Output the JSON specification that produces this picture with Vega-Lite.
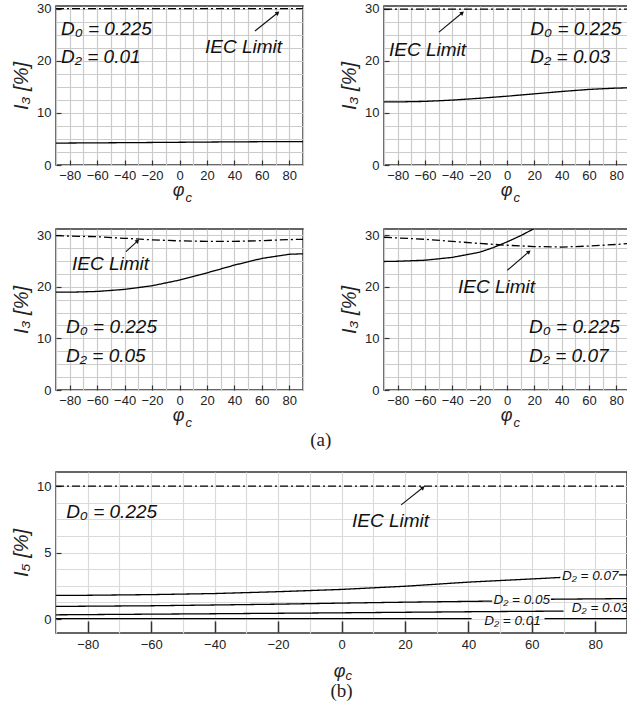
{
  "$schema": "https://vega.github.io/schema/vega-lite/v6.json",
  "padding": {"left": 10, "top": 1, "right": 0, "bottom": 0},
  "background": "white",
  "config": {
    "view": {"stroke": "#333", "strokeWidth": 1.5},
    "font": "Liberation Sans",
    "axis": {"labelFont": "Liberation Sans", "labelFontSize": 13, "labelColor": "#222", "titleFont": "Liberation Sans", "titleFontSize": 18, "titleFontStyle": "italic", "titleFontWeight": "normal", "titleColor": "#222", "gridColor": "#cbcbcb", "gridWidth": 1.2, "tickColor": "#333", "labelOverlap": false},
    "title": {"font": "Liberation Serif", "fontSize": 19, "fontWeight": "normal", "color": "#222"}
  },
  "spacing": 21,
  "vconcat": [
    {
      "spacing": 23,
      "title": {"text": "(a)", "orient": "bottom", "anchor": "middle", "offset": 1},
      "vconcat": [
        {
          "spacing": 34,
          "hconcat": [
            {
              "width": 247, "height": 159,
              "resolve": {"axis": {"x": "independent", "y": "independent"}},
              "layer": [
                {
                  "data": {"values": [
                    {"phi": -90, "i": 4.2, "s": "curve"}, {"phi": -60, "i": 4.25, "s": "curve"}, {"phi": -30, "i": 4.3, "s": "curve"}, {"phi": 0, "i": 4.36, "s": "curve"}, {"phi": 30, "i": 4.42, "s": "curve"}, {"phi": 60, "i": 4.47, "s": "curve"}, {"phi": 90, "i": 4.5, "s": "curve"},
                    {"phi": -90, "i": 30, "s": "IEC"}, {"phi": 90, "i": 30, "s": "IEC"}
                  ]},
                  "mark": {"type": "line", "color": "black", "strokeWidth": 1.3, "clip": true},
                  "encoding": {
                    "x": {"field": "phi", "type": "quantitative", "scale": {"domain": [-90, 90], "nice": false}, "axis": {"values": [-80, -60, -40, -20, 0, 20, 40, 60, 80], "grid": false, "domain": false, "tickSize": -5, "tickWidth": 1.2, "labelPadding": 9, "title": "φ", "titleX": 122, "titleY": 30, "titleAlign": "center", "titleBaseline": "alphabetic", "titleAngle": 0}},
                    "y": {"field": "i", "type": "quantitative", "scale": {"domain": [0, 30.5], "nice": false}, "axis": {"values": [0, 10, 20, 30], "grid": false, "domain": false, "tickSize": -5, "tickWidth": 1.2, "labelPadding": 10, "title": "I₃ [%]", "titleFontSize": 20, "titlePadding": 5}},
                    "strokeDash": {"field": "s", "type": "nominal", "scale": {"domain": ["curve", "IEC"], "range": [[1, 0], [8, 3, 2, 3]]}, "legend": null}
                  }
                },
                {
                  "data": {"values": [{"x": -86.4, "y": 24.9, "t": "D₀ = 0.225"}, {"x": -86.4, "y": 19.5, "t": "D₂ = 0.01"}, {"x": 18.6, "y": 21.4, "t": "IEC Limit"}]},
                  "mark": {"type": "text", "fontSize": 19, "fontStyle": "italic", "align": "left", "baseline": "alphabetic", "color": "#111"},
                  "encoding": {
                    "x": {"field": "x", "type": "quantitative", "scale": {"domain": [-90, 90], "nice": false}, "axis": {"orient": "bottom", "values": [-90, -80, -70, -60, -50, -40, -30, -20, -10, 0, 10, 20, 30, 40, 50, 60, 70, 80, 90], "grid": true, "labels": false, "ticks": false, "domain": false, "title": "c", "titleFontSize": 13, "titleX": 129, "titleY": 36, "titleAlign": "left", "titleBaseline": "alphabetic", "titleAngle": 0}},
                    "y": {"field": "y", "type": "quantitative", "scale": {"domain": [0, 30.5], "nice": false}, "axis": {"orient": "left", "values": [0, 2.5, 5, 7.5, 10, 12.5, 15, 17.5, 20, 22.5, 25, 27.5, 30], "grid": true, "labels": false, "ticks": false, "domain": false, "title": null}},
                    "text": {"field": "t"}
                  }
                },
                {
                  "data": {"values": [{"x": 55, "y": 25.7, "x2": 71.6, "y2": 29.2}]},
                  "layer": [
                    {"mark": {"type": "rule", "color": "#111", "strokeWidth": 1.1},
                     "encoding": {"x": {"field": "x", "type": "quantitative", "axis": null}, "y": {"field": "y", "type": "quantitative", "axis": null}, "x2": {"field": "x2"}, "y2": {"field": "y2"}}},
                    {"mark": {"type": "point", "shape": "triangle-up", "angle": 50, "filled": true, "size": 22, "color": "#111", "opacity": 1},
                     "encoding": {"x": {"field": "x2", "type": "quantitative", "axis": null}, "y": {"field": "y2", "type": "quantitative", "axis": null}}}
                  ]
                }
              ]
            },
            {
              "width": 246, "height": 159,
              "resolve": {"axis": {"x": "independent", "y": "independent"}},
              "layer": [
                {
                  "data": {"values": [
                    {"phi": -90, "i": 12.1, "s": "curve"}, {"phi": -80, "i": 12.1, "s": "curve"}, {"phi": -60, "i": 12.2, "s": "curve"}, {"phi": -40, "i": 12.45, "s": "curve"}, {"phi": -20, "i": 12.8, "s": "curve"}, {"phi": 0, "i": 13.2, "s": "curve"}, {"phi": 20, "i": 13.65, "s": "curve"}, {"phi": 40, "i": 14.1, "s": "curve"}, {"phi": 60, "i": 14.5, "s": "curve"}, {"phi": 80, "i": 14.75, "s": "curve"}, {"phi": 90, "i": 14.8, "s": "curve"},
                    {"phi": -90, "i": 29.9, "s": "IEC"}, {"phi": 90, "i": 29.9, "s": "IEC"}
                  ]},
                  "mark": {"type": "line", "color": "black", "strokeWidth": 1.3, "clip": true},
                  "encoding": {
                    "x": {"field": "phi", "type": "quantitative", "scale": {"domain": [-90, 90], "nice": false}, "axis": {"values": [-80, -60, -40, -20, 0, 20, 40, 60, 80], "grid": false, "domain": false, "tickSize": -5, "tickWidth": 1.2, "labelPadding": 9, "title": "φ", "titleX": 122, "titleY": 30, "titleAlign": "center", "titleBaseline": "alphabetic", "titleAngle": 0}},
                    "y": {"field": "i", "type": "quantitative", "scale": {"domain": [0, 30.5], "nice": false}, "axis": {"values": [0, 10, 20, 30], "grid": false, "domain": false, "tickSize": -5, "tickWidth": 1.2, "labelPadding": 10, "title": "I₃ [%]", "titleFontSize": 20, "titlePadding": 5}},
                    "strokeDash": {"field": "s", "type": "nominal", "scale": {"domain": ["curve", "IEC"], "range": [[1, 0], [8, 3, 2, 3]]}, "legend": null}
                  }
                },
                {
                  "data": {"values": [{"x": 17.1, "y": 24.9, "t": "D₀ = 0.225"}, {"x": 17.1, "y": 19.5, "t": "D₂ = 0.03"}, {"x": -86.3, "y": 21.0, "t": "IEC Limit"}]},
                  "mark": {"type": "text", "fontSize": 19, "fontStyle": "italic", "align": "left", "baseline": "alphabetic", "color": "#111"},
                  "encoding": {
                    "x": {"field": "x", "type": "quantitative", "scale": {"domain": [-90, 90], "nice": false}, "axis": {"orient": "bottom", "values": [-90, -80, -70, -60, -50, -40, -30, -20, -10, 0, 10, 20, 30, 40, 50, 60, 70, 80, 90], "grid": true, "labels": false, "ticks": false, "domain": false, "title": "c", "titleFontSize": 13, "titleX": 129, "titleY": 36, "titleAlign": "left", "titleBaseline": "alphabetic", "titleAngle": 0}},
                    "y": {"field": "y", "type": "quantitative", "scale": {"domain": [0, 30.5], "nice": false}, "axis": {"orient": "left", "values": [0, 2.5, 5, 7.5, 10, 12.5, 15, 17.5, 20, 22.5, 25, 27.5, 30], "grid": true, "labels": false, "ticks": false, "domain": false, "title": null}},
                    "text": {"field": "t"}
                  }
                },
                {
                  "data": {"values": [{"x": -49.8, "y": 25.5, "x2": -32.7, "y2": 29.2}]},
                  "layer": [
                    {"mark": {"type": "rule", "color": "#111", "strokeWidth": 1.1},
                     "encoding": {"x": {"field": "x", "type": "quantitative", "axis": null}, "y": {"field": "y", "type": "quantitative", "axis": null}, "x2": {"field": "x2"}, "y2": {"field": "y2"}}},
                    {"mark": {"type": "point", "shape": "triangle-up", "angle": 50, "filled": true, "size": 22, "color": "#111", "opacity": 1},
                     "encoding": {"x": {"field": "x2", "type": "quantitative", "axis": null}, "y": {"field": "y2", "type": "quantitative", "axis": null}}}
                  ]
                }
              ]
            }
          ]
        },
        {
          "spacing": 34,
          "hconcat": [
            {
              "width": 247, "height": 161,
              "resolve": {"axis": {"x": "independent", "y": "independent"}},
              "layer": [
                {
                  "data": {"values": [
                    {"phi": -90, "i": 18.95, "s": "curve"}, {"phi": -80, "i": 18.95, "s": "curve"}, {"phi": -60, "i": 19.1, "s": "curve"}, {"phi": -40, "i": 19.5, "s": "curve"}, {"phi": -20, "i": 20.2, "s": "curve"}, {"phi": 0, "i": 21.3, "s": "curve"}, {"phi": 20, "i": 22.7, "s": "curve"}, {"phi": 40, "i": 24.2, "s": "curve"}, {"phi": 60, "i": 25.5, "s": "curve"}, {"phi": 80, "i": 26.3, "s": "curve"}, {"phi": 90, "i": 26.4, "s": "curve"},
                    {"phi": -90, "i": 29.9, "s": "IEC"}, {"phi": -60, "i": 29.7, "s": "IEC"}, {"phi": -40, "i": 29.4, "s": "IEC"}, {"phi": -20, "i": 29.1, "s": "IEC"}, {"phi": 0, "i": 28.9, "s": "IEC"}, {"phi": 20, "i": 28.8, "s": "IEC"}, {"phi": 40, "i": 28.8, "s": "IEC"}, {"phi": 60, "i": 28.95, "s": "IEC"}, {"phi": 80, "i": 29.15, "s": "IEC"}, {"phi": 90, "i": 29.2, "s": "IEC"}
                  ]},
                  "mark": {"type": "line", "color": "black", "strokeWidth": 1.3, "clip": true},
                  "encoding": {
                    "x": {"field": "phi", "type": "quantitative", "scale": {"domain": [-90, 90], "nice": false}, "axis": {"values": [-80, -60, -40, -20, 0, 20, 40, 60, 80], "grid": false, "domain": false, "tickSize": -5, "tickWidth": 1.2, "labelPadding": 9, "title": "φ", "titleX": 122, "titleY": 30, "titleAlign": "center", "titleBaseline": "alphabetic", "titleAngle": 0}},
                    "y": {"field": "i", "type": "quantitative", "scale": {"domain": [0, 31.2], "nice": false}, "axis": {"values": [0, 10, 20, 30], "grid": false, "domain": false, "tickSize": -5, "tickWidth": 1.2, "labelPadding": 10, "title": "I₃ [%]", "titleFontSize": 20, "titlePadding": 5}},
                    "strokeDash": {"field": "s", "type": "nominal", "scale": {"domain": ["curve", "IEC"], "range": [[1, 0], [8, 3, 2, 3]]}, "legend": null}
                  }
                },
                {
                  "data": {"values": [{"x": -82.7, "y": 11.0, "t": "D₀ = 0.225"}, {"x": -82.7, "y": 5.5, "t": "D₂ = 0.05"}, {"x": -78.3, "y": 23.2, "t": "IEC Limit"}]},
                  "mark": {"type": "text", "fontSize": 19, "fontStyle": "italic", "align": "left", "baseline": "alphabetic", "color": "#111"},
                  "encoding": {
                    "x": {"field": "x", "type": "quantitative", "scale": {"domain": [-90, 90], "nice": false}, "axis": {"orient": "bottom", "values": [-90, -80, -70, -60, -50, -40, -30, -20, -10, 0, 10, 20, 30, 40, 50, 60, 70, 80, 90], "grid": true, "labels": false, "ticks": false, "domain": false, "title": "c", "titleFontSize": 13, "titleX": 129, "titleY": 36, "titleAlign": "left", "titleBaseline": "alphabetic", "titleAngle": 0}},
                    "y": {"field": "y", "type": "quantitative", "scale": {"domain": [0, 31.2], "nice": false}, "axis": {"orient": "left", "values": [0, 2.5, 5, 7.5, 10, 12.5, 15, 17.5, 20, 22.5, 25, 27.5, 30], "grid": true, "labels": false, "ticks": false, "domain": false, "title": null}},
                    "text": {"field": "t"}
                  }
                },
                {
                  "data": {"values": [{"x": -39, "y": 26.8, "x2": -30.5, "y2": 28.9}]},
                  "layer": [
                    {"mark": {"type": "rule", "color": "#111", "strokeWidth": 1.1},
                     "encoding": {"x": {"field": "x", "type": "quantitative", "axis": null}, "y": {"field": "y", "type": "quantitative", "axis": null}, "x2": {"field": "x2"}, "y2": {"field": "y2"}}},
                    {"mark": {"type": "point", "shape": "triangle-up", "angle": 47, "filled": true, "size": 22, "color": "#111", "opacity": 1},
                     "encoding": {"x": {"field": "x2", "type": "quantitative", "axis": null}, "y": {"field": "y2", "type": "quantitative", "axis": null}}}
                  ]
                }
              ]
            },
            {
              "width": 246, "height": 161,
              "resolve": {"axis": {"x": "independent", "y": "independent"}},
              "layer": [
                {
                  "data": {"values": [
                    {"phi": -90, "i": 24.9, "s": "curve"}, {"phi": -80, "i": 24.95, "s": "curve"}, {"phi": -60, "i": 25.15, "s": "curve"}, {"phi": -40, "i": 25.7, "s": "curve"}, {"phi": -20, "i": 26.7, "s": "curve"}, {"phi": -10, "i": 27.6, "s": "curve"}, {"phi": 0, "i": 28.7, "s": "curve"}, {"phi": 10, "i": 29.9, "s": "curve"}, {"phi": 20, "i": 31.3, "s": "curve"},
                    {"phi": -90, "i": 29.6, "s": "IEC"}, {"phi": -60, "i": 29.2, "s": "IEC"}, {"phi": -40, "i": 28.8, "s": "IEC"}, {"phi": -20, "i": 28.4, "s": "IEC"}, {"phi": 0, "i": 28.05, "s": "IEC"}, {"phi": 20, "i": 27.8, "s": "IEC"}, {"phi": 40, "i": 27.7, "s": "IEC"}, {"phi": 60, "i": 27.9, "s": "IEC"}, {"phi": 80, "i": 28.2, "s": "IEC"}, {"phi": 90, "i": 28.4, "s": "IEC"}
                  ]},
                  "mark": {"type": "line", "color": "black", "strokeWidth": 1.3, "clip": true},
                  "encoding": {
                    "x": {"field": "phi", "type": "quantitative", "scale": {"domain": [-90, 90], "nice": false}, "axis": {"values": [-80, -60, -40, -20, 0, 20, 40, 60, 80], "grid": false, "domain": false, "tickSize": -5, "tickWidth": 1.2, "labelPadding": 9, "title": "φ", "titleX": 122, "titleY": 30, "titleAlign": "center", "titleBaseline": "alphabetic", "titleAngle": 0}},
                    "y": {"field": "i", "type": "quantitative", "scale": {"domain": [0, 31.2], "nice": false}, "axis": {"values": [0, 10, 20, 30], "grid": false, "domain": false, "tickSize": -5, "tickWidth": 1.2, "labelPadding": 10, "title": "I₃ [%]", "titleFontSize": 20, "titlePadding": 5}},
                    "strokeDash": {"field": "s", "type": "nominal", "scale": {"domain": ["curve", "IEC"], "range": [[1, 0], [8, 3, 2, 3]]}, "legend": null}
                  }
                },
                {
                  "data": {"values": [{"x": 16.1, "y": 11.0, "t": "D₀ = 0.225"}, {"x": 16.1, "y": 5.5, "t": "D₂ = 0.07"}, {"x": -35.9, "y": 18.8, "t": "IEC Limit"}]},
                  "mark": {"type": "text", "fontSize": 19, "fontStyle": "italic", "align": "left", "baseline": "alphabetic", "color": "#111"},
                  "encoding": {
                    "x": {"field": "x", "type": "quantitative", "scale": {"domain": [-90, 90], "nice": false}, "axis": {"orient": "bottom", "values": [-90, -80, -70, -60, -50, -40, -30, -20, -10, 0, 10, 20, 30, 40, 50, 60, 70, 80, 90], "grid": true, "labels": false, "ticks": false, "domain": false, "title": "c", "titleFontSize": 13, "titleX": 129, "titleY": 36, "titleAlign": "left", "titleBaseline": "alphabetic", "titleAngle": 0}},
                    "y": {"field": "y", "type": "quantitative", "scale": {"domain": [0, 31.2], "nice": false}, "axis": {"orient": "left", "values": [0, 2.5, 5, 7.5, 10, 12.5, 15, 17.5, 20, 22.5, 25, 27.5, 30], "grid": true, "labels": false, "ticks": false, "domain": false, "title": null}},
                    "text": {"field": "t"}
                  }
                },
                {
                  "data": {"values": [{"x": 0.2, "y": 23.2, "x2": 16.1, "y2": 26.8}]},
                  "layer": [
                    {"mark": {"type": "rule", "color": "#111", "strokeWidth": 1.1},
                     "encoding": {"x": {"field": "x", "type": "quantitative", "axis": null}, "y": {"field": "y", "type": "quantitative", "axis": null}, "x2": {"field": "x2"}, "y2": {"field": "y2"}}},
                    {"mark": {"type": "point", "shape": "triangle-up", "angle": 50, "filled": true, "size": 22, "color": "#111", "opacity": 1},
                     "encoding": {"x": {"field": "x2", "type": "quantitative", "axis": null}, "y": {"field": "y2", "type": "quantitative", "axis": null}}}
                  ]
                }
              ]
            }
          ]
        }
      ]
    },
    {
      "width": 571, "height": 161,
      "title": {"text": "(b)", "orient": "bottom", "anchor": "middle", "offset": 0},
      "resolve": {"axis": {"x": "independent", "y": "independent"}},
      "layer": [
        {
          "data": {"values": [
            {"phi": -90, "i": 1.78, "s": "curve", "k": "07a"}, {"phi": -80, "i": 1.79, "s": "curve", "k": "07a"}, {"phi": -60, "i": 1.84, "s": "curve", "k": "07a"}, {"phi": -40, "i": 1.92, "s": "curve", "k": "07a"}, {"phi": -20, "i": 2.06, "s": "curve", "k": "07a"}, {"phi": 0, "i": 2.23, "s": "curve", "k": "07a"}, {"phi": 20, "i": 2.47, "s": "curve", "k": "07a"}, {"phi": 40, "i": 2.78, "s": "curve", "k": "07a"}, {"phi": 60, "i": 3.02, "s": "curve", "k": "07a"}, {"phi": 69, "i": 3.13, "s": "curve", "k": "07a"},
            {"phi": 87.5, "i": 3.33, "s": "curve", "k": "07b"}, {"phi": 90, "i": 3.33, "s": "curve", "k": "07b"},
            {"phi": -90, "i": 0.95, "s": "curve", "k": "05a"}, {"phi": -60, "i": 1.0, "s": "curve", "k": "05a"}, {"phi": -40, "i": 1.06, "s": "curve", "k": "05a"}, {"phi": -20, "i": 1.12, "s": "curve", "k": "05a"}, {"phi": 0, "i": 1.2, "s": "curve", "k": "05a"}, {"phi": 20, "i": 1.27, "s": "curve", "k": "05a"}, {"phi": 40, "i": 1.33, "s": "curve", "k": "05a"}, {"phi": 47.5, "i": 1.35, "s": "curve", "k": "05a"},
            {"phi": 66, "i": 1.49, "s": "curve", "k": "05b"}, {"phi": 80, "i": 1.52, "s": "curve", "k": "05b"}, {"phi": 90, "i": 1.54, "s": "curve", "k": "05b"},
            {"phi": -90, "i": 0.32, "s": "curve", "k": "03a"}, {"phi": -40, "i": 0.4, "s": "curve", "k": "03a"}, {"phi": 0, "i": 0.47, "s": "curve", "k": "03a"}, {"phi": 40, "i": 0.55, "s": "curve", "k": "03a"}, {"phi": 70, "i": 0.6, "s": "curve", "k": "03a"},
            {"phi": -90, "i": 0.03, "s": "curve", "k": "01a"}, {"phi": 41, "i": 0.03, "s": "curve", "k": "01a"},
            {"phi": 64, "i": 0.03, "s": "curve", "k": "01b"}, {"phi": 90, "i": 0.03, "s": "curve", "k": "01b"},
            {"phi": -90, "i": 10, "s": "IEC", "k": "iec"}, {"phi": 90, "i": 10, "s": "IEC", "k": "iec"}
          ]},
          "mark": {"type": "line", "color": "black", "strokeWidth": 1.3, "clip": true},
          "encoding": {
            "x": {"field": "phi", "type": "quantitative", "scale": {"domain": [-90, 90], "nice": false}, "axis": {"values": [-80, -60, -40, -20, 0, 20, 40, 60, 80], "grid": false, "domain": false, "tickSize": -12, "tickWidth": 1.5, "labelPadding": 17, "title": "φ", "titleX": 283, "titleY": 43, "titleAlign": "center", "titleBaseline": "alphabetic", "titleAngle": 0}},
            "y": {"field": "i", "type": "quantitative", "scale": {"domain": [-1.05, 11.07], "nice": false}, "axis": {"values": [0, 5, 10], "grid": false, "domain": false, "tickSize": -5, "tickWidth": 1.2, "labelPadding": 10, "title": "I₅ [%]", "titleFontSize": 20, "titlePadding": 5}},
            "detail": {"field": "k"},
            "strokeDash": {"field": "s", "type": "nominal", "scale": {"domain": ["curve", "IEC"], "range": [[1, 0], [8, 3, 2, 3]]}, "legend": null}
          }
        },
        {
          "data": {"values": [{"x": -86.8, "y": 7.6, "t": "D₀ = 0.225"}, {"x": 3.3, "y": 6.9, "t": "IEC Limit"}]},
          "mark": {"type": "text", "fontSize": 19, "fontStyle": "italic", "align": "left", "baseline": "alphabetic", "color": "#111"},
          "encoding": {
            "x": {"field": "x", "type": "quantitative", "scale": {"domain": [-90, 90], "nice": false}, "axis": {"orient": "bottom", "values": [-90, -80, -70, -60, -50, -40, -30, -20, -10, 0, 10, 20, 30, 40, 50, 60, 70, 80, 90], "grid": true, "gridColor": "#dadada", "labels": false, "ticks": false, "domain": false, "title": "c", "titleFontSize": 13, "titleX": 289, "titleY": 46, "titleAlign": "left", "titleBaseline": "alphabetic", "titleAngle": 0}},
            "y": {"field": "y", "type": "quantitative", "scale": {"domain": [-1.05, 11.07], "nice": false}, "axis": {"orient": "left", "values": [0, 1.25, 2.5, 3.75, 5, 6.25, 7.5, 8.75, 10], "grid": true, "gridColor": "#dadada", "labels": false, "ticks": false, "domain": false, "title": null}},
            "text": {"field": "t"}
          }
        },
        {
          "data": {"values": [{"x": 78.4, "y": 3.25, "t": "D₂ = 0.07"}, {"x": 56.8, "y": 1.4, "t": "D₂ = 0.05"}, {"x": 81.5, "y": 0.83, "t": "D₂ = 0.03"}, {"x": 53.9, "y": -0.18, "t": "D₂ = 0.01"}]},
          "mark": {"type": "text", "fontSize": 13.5, "fontStyle": "italic", "align": "center", "baseline": "middle", "color": "#111"},
          "encoding": {
            "x": {"field": "x", "type": "quantitative", "axis": null},
            "y": {"field": "y", "type": "quantitative", "axis": null},
            "text": {"field": "t"}
          }
        },
        {
          "data": {"values": [{"x": 18.8, "y": 8.6, "x2": 25.7, "y2": 9.9}]},
          "layer": [
            {"mark": {"type": "rule", "color": "#111", "strokeWidth": 1.1},
             "encoding": {"x": {"field": "x", "type": "quantitative", "axis": null}, "y": {"field": "y", "type": "quantitative", "axis": null}, "x2": {"field": "x2"}, "y2": {"field": "y2"}}},
            {"mark": {"type": "point", "shape": "triangle-up", "angle": 51, "filled": true, "size": 22, "color": "#111", "opacity": 1},
             "encoding": {"x": {"field": "x2", "type": "quantitative", "axis": null}, "y": {"field": "y2", "type": "quantitative", "axis": null}}}
          ]
        }
      ]
    }
  ]
}
